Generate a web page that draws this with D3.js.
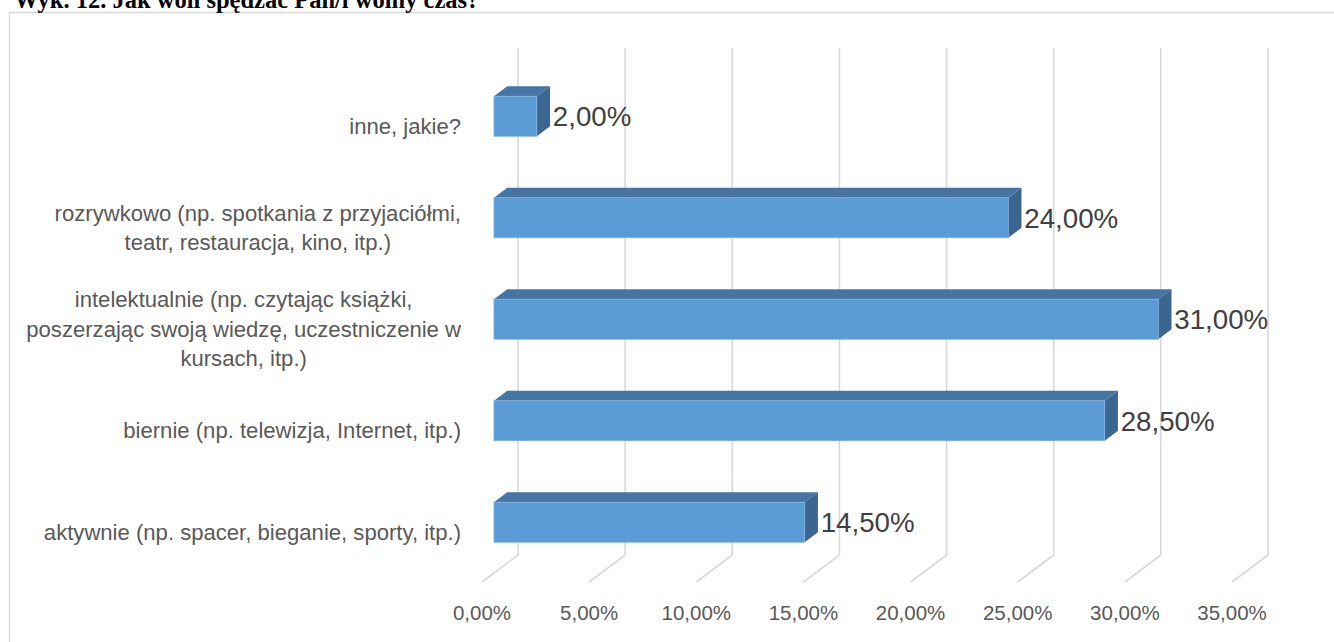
<!DOCTYPE html>
<html><head><meta charset="utf-8">
<script src="https://cdn.jsdelivr.net/npm/d3@7"></script>
<style>html,body{margin:0;padding:0;background:#fff;overflow:hidden}</style>
</head><body>
<svg id="c" width="1334" height="642"></svg>
<script>
const title = "Wyk. 12. Jak woli spędzać Pan/i wolny czas?";
const categories = [
  ["inne, jakie?"],
  ["rozrywkowo (np. spotkania z przyjaciółmi,", "teatr, restauracja, kino, itp.)"],
  ["intelektualnie (np. czytając książki,", "poszerzając swoją wiedzę, uczestniczenie w", "kursach, itp.)"],
  ["biernie (np. telewizja, Internet, itp.)"],
  ["aktywnie (np. spacer, bieganie, sporty, itp.)"]
];
const values = [2.0, 24.0, 31.0, 28.5, 14.5];
const tickValues = [0, 5, 10, 15, 20, 25, 30, 35];

const fmt = v => d3.format(".2f")(v).replace(".", ",") + "%";
const svg = d3.select("#c");
const FONT = "'Liberation Sans', Arial, sans-serif";

// 3D geometry
const DX = 36, DY = -27, T1 = 0.333, T2 = 0.70;
const floorY = 582, wallTop = 48;

const x = d3.scaleLinear().domain([0, 35]).range([482, 1232]);
const keys = categories.map((c, i) => "c" + i);
const y = d3.scaleBand().domain(keys).range([74.5, floorY]).paddingInner(0.606).paddingOuter(0.303);

// border
svg.append("rect").attr("x", 9.5).attr("y", 12.5).attr("width", 1340).attr("height", 650)
  .attr("fill", "none").attr("stroke", "#d9d9d9").attr("stroke-width", 1.5);

// title
svg.append("text").attr("x", 14).attr("y", 8)
  .attr("font-family", "'Liberation Serif', 'Times New Roman', serif")
  .attr("font-weight", "bold").attr("font-size", 24.5).attr("fill", "#000").text(title);

// gridlines (back wall + floor)
svg.append("g").selectAll("path").data(tickValues).join("path")
  .attr("d", v => `M${x(v) + DX},${wallTop}V${floorY + DY}L${x(v)},${floorY}`)
  .attr("fill", "none").attr("stroke", "#d9d9d9").attr("stroke-width", 1.6);

// tick labels
svg.append("g").selectAll("text").data(tickValues).join("text")
  .attr("x", v => x(v)).attr("y", 620).attr("text-anchor", "middle")
  .attr("font-family", FONT).attr("font-size", 20.5).attr("fill", "#595959")
  .text(fmt);

// bars
const bw = y.bandwidth();
const ddx = DX * (T2 - T1), ddy = DY * (T2 - T1);
const bars = svg.append("g").selectAll("g").data(values).join("g");
bars.each(function(v, i) {
  const g = d3.select(this);
  const x0 = x(0) + DX * T1, x1 = x(v) + DX * T1;
  const y0 = y(keys[i]) + DY * T1;
  g.append("path")
    .attr("d", `M${x0},${y0}L${x1},${y0}L${x1 + ddx},${y0 + ddy}L${x0 + ddx},${y0 + ddy}Z`)
    .attr("fill", "#4775a3");
  g.append("path")
    .attr("d", `M${x1},${y0}L${x1 + ddx},${y0 + ddy}L${x1 + ddx},${y0 + ddy + bw}L${x1},${y0 + bw}Z`)
    .attr("fill", "#3b6690");
  g.append("rect").attr("x", x0).attr("y", y0).attr("width", x1 - x0).attr("height", bw)
    .attr("fill", "#5b9bd5").attr("stroke", "#7fb1e0").attr("stroke-width", 0.8);
  g.append("text").attr("x", x1 + 16).attr("y", y0 + bw / 2 + 10)
    .attr("font-family", FONT).attr("font-size", 27.7).attr("fill", "#404040")
    .text(fmt(v));
});

// category labels
const LH = 29.5, RIGHT = 461;
categories.forEach((lines, i) => {
  const cy = y(keys[i]) + bw / 2;
  const g = svg.append("g");
  const texts = g.selectAll("text").data(lines).join("text")
    .attr("y", (d, j) => cy + (j - (lines.length - 1) / 2) * LH + 8.5)
    .attr("text-anchor", "middle")
    .attr("font-family", FONT).attr("font-size", 22.1).attr("fill", "#595959")
    .text(d => d);
  let maxW = 0;
  texts.each(function() { maxW = Math.max(maxW, this.getComputedTextLength()); });
  texts.attr("x", RIGHT - maxW / 2);
});
</script>
</body></html>
